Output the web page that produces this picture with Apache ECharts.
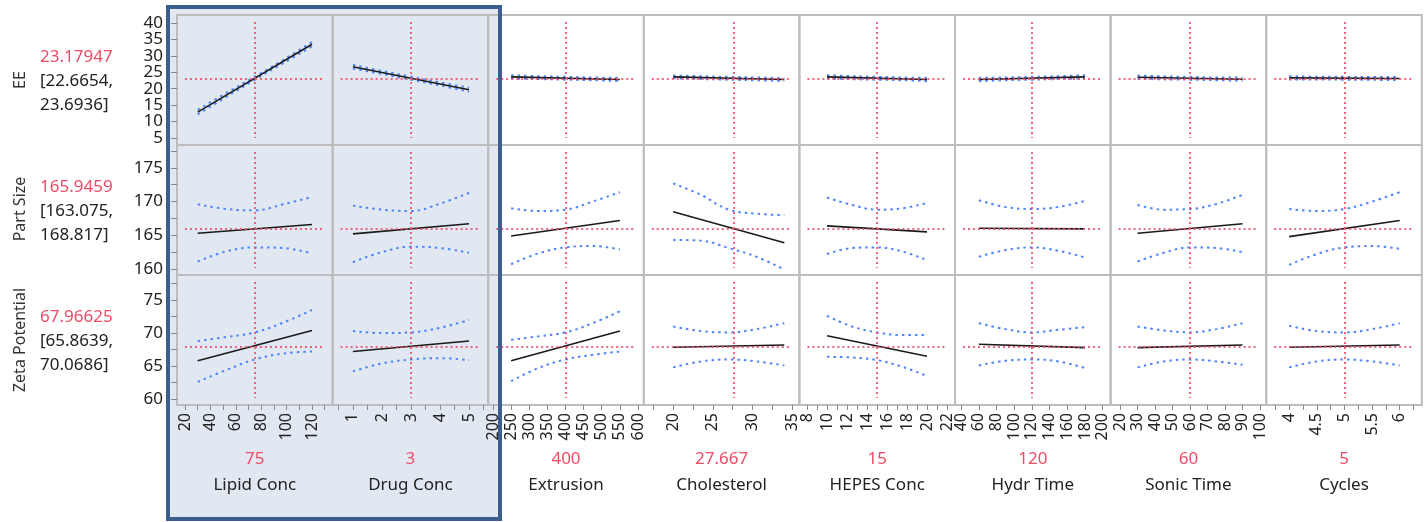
<!DOCTYPE html>
<html>
<head>
<meta charset="utf-8">
<script src="https://cdn.jsdelivr.net/npm/echarts@6/dist/echarts.min.js"></script>
<style>
  html, body { margin: 0; padding: 0; background: #ffffff; }
  #chart { width: 1427px; height: 522px; }
</style>
</head>
<body>
<div id="chart"></div>
<script>
// Prediction profiler: 3 responses x 8 factors

const factors = ['Lipid Conc', 'Drug Conc', 'Extrusion', 'Cholesterol', 'HEPES Conc', 'Hydr Time', 'Sonic Time', 'Cycles'];
const factorCurrent = [75, 3, 400, 27.667, 15, 120, 60, 5];
const factorLo = [30, 1, 250, 20, 10, 60, 30, 4];
const factorHi = [120, 5, 550, 34, 20, 180, 90, 6];
const xMin = [13.7, 0.3, 186.8, 16.3, 7.24, 33, 14.6, 3.585];
const xMax = [136.2, 5.66, 616, 35.9, 22.8, 209, 103.5, 6.4];
const xLabels = [
  [20, 40, 60, 80, 100, 120],
  [1, 2, 3, 4, 5],
  [200, 250, 300, 350, 400, 450, 500, 550, 600],
  [20, 25, 30, 35],
  [8, 10, 12, 14, 16, 18, 20, 22],
  [40, 60, 80, 100, 120, 140, 160, 180, 200],
  [20, 30, 40, 50, 60, 70, 80, 90, 100],
  [4, 4.5, 5, 5.5, 6]
];
const xTicks = [
  [20, 30, 40, 50, 60, 70, 80, 90, 100, 110, 120, 130],
  [0.5, 1, 1.5, 2, 2.5, 3, 3.5, 4, 4.5, 5, 5.5],
  [200, 250, 300, 350, 400, 450, 500, 550, 600],
  [17.5, 20, 22.5, 25, 27.5, 30, 32.5, 35],
  [8, 9, 10, 11, 12, 13, 14, 15, 16, 17, 18, 19, 20, 21, 22],
  [40, 60, 80, 100, 120, 140, 160, 180, 200],
  [20, 30, 40, 50, 60, 70, 80, 90, 100],
  [3.75, 4, 4.25, 4.5, 4.75, 5, 5.25, 5.5, 5.75, 6, 6.25]
];

const responses = ['EE', 'Part Size', 'Zeta Potential'];
const respValue = ['23.17947', '165.9459', '67.96625'];
const respLow = ['22.6654', '163.075', '65.8639'];
const respHigh = ['23.6936', '168.817', '70.0686'];
const yMin = [2.9, 159.1, 59.1];
const yMax = [42.4, 178.4, 78.8];
// tick labels are split over two stacked axes so tightly packed labels all stay visible
const yLabelsA = [
  [5, 15, 25, 35],
  [160, 170],
  [60, 70]
];
const yLabelsB = [
  [10, 20, 30, 40],
  [165, 175],
  [65, 75]
];
const yTicks = [
  [5, 10, 15, 20, 25, 30, 35, 40],
  [160, 162.5, 165, 167.5, 170, 172.5, 175, 177.5],
  [60, 62.5, 65, 67.5, 70, 72.5, 75, 77.5]
];

// Prediction trace end values (at factorLo, factorHi) for each factor
const eeLine = [[12.9, 33.5], [26.7, 19.7], [23.6, 22.8], [23.6, 22.8], [23.6, 22.8], [22.8, 23.6], [23.5, 22.9], [23.3, 23.1]];
// Confidence bands read at 5 evenly spaced positions across each factor range
const eeUpper = [
  [13.6, 18.7, 23.65, 28.8, 34.2], [27.3, 25.4, 23.65, 21.9, 20.3],
  [24.1, 23.8, 23.6, 23.4, 23.3], [24.0, 23.8, 23.6, 23.4, 23.2],
  [24.1, 23.8, 23.6, 23.4, 23.3], [23.3, 23.4, 23.6, 23.8, 24.1],
  [24.0, 23.75, 23.6, 23.4, 23.4], [23.8, 23.65, 23.6, 23.55, 23.6]
];
const eeLower = [
  [12.2, 17.5, 22.75, 27.8, 32.8], [26.1, 24.5, 22.75, 21.0, 19.1],
  [23.1, 22.95, 22.75, 22.6, 22.3], [23.2, 22.95, 22.75, 22.55, 22.4],
  [23.1, 22.9, 22.75, 22.6, 22.3], [22.3, 22.6, 22.75, 22.95, 23.1],
  [23.0, 22.85, 22.75, 22.6, 22.4], [22.8, 22.8, 22.75, 22.7, 22.6]
];

const psLine = [[165.3, 166.6], [165.2, 166.7], [164.9, 167.2], [168.5, 163.9], [166.4, 165.5], [166.05, 165.95], [165.3, 166.7], [164.8, 167.2]];
const psUpper = [
  [169.6, 168.9, 168.7, 169.6, 170.7], [169.4, 168.8, 168.6, 169.7, 171.3],
  [169.0, 168.6, 168.8, 170.0, 171.4], [172.7, 171.0, 168.8, 168.2, 168.0],
  [170.6, 169.5, 168.8, 169.0, 169.8], [170.2, 169.2, 168.9, 169.2, 170.1],
  [169.5, 168.8, 168.9, 169.65, 171.0], [168.9, 168.6, 168.9, 170.0, 171.4]
];
const psLower = [
  [161.1, 162.6, 163.2, 163.1, 162.3], [161.0, 162.5, 163.3, 163.1, 162.4],
  [160.7, 162.3, 163.2, 163.4, 162.9], [164.3, 164.2, 163.1, 161.8, 159.9],
  [162.2, 163.1, 163.2, 162.6, 161.3], [161.8, 162.8, 163.2, 162.7, 161.7],
  [161.1, 162.4, 163.2, 163.1, 162.5], [160.6, 162.2, 163.2, 163.4, 163.0]
];

const zpLine = [[65.8, 70.4], [67.2, 68.8], [65.8, 70.3], [67.85, 68.2], [69.6, 66.5], [68.3, 67.8], [67.8, 68.2], [67.85, 68.2]];
const zpUpper = [
  [68.8, 69.4, 70.1, 71.6, 73.5], [70.3, 70.0, 70.1, 70.8, 72.0],
  [69.0, 69.5, 70.1, 71.5, 73.3], [71.0, 70.3, 70.1, 70.6, 71.5],
  [72.6, 71.0, 70.1, 69.7, 69.7], [71.5, 70.6, 70.1, 70.5, 70.9],
  [71.0, 70.4, 70.1, 70.6, 71.5], [71.1, 70.3, 70.1, 70.6, 71.5]
];
const zpLower = [
  [62.6, 64.4, 66.0, 66.9, 67.2], [64.2, 65.4, 66.0, 66.2, 65.9],
  [62.7, 64.7, 66.0, 66.7, 67.2], [64.8, 65.7, 66.0, 65.7, 65.1],
  [66.4, 66.3, 65.9, 64.9, 63.5], [65.1, 65.8, 66.0, 65.7, 64.7],
  [64.8, 65.7, 66.0, 65.7, 65.2], [64.8, 65.7, 66.0, 65.7, 65.1]
];

const traceLines = [eeLine, psLine, zpLine];
const upperBands = [eeUpper, psUpper, zpUpper];
const lowerBands = [eeLower, psLower, zpLower];

// layout
const FONT = '"Noto Sans", "Open Sans", sans-serif';
const LEFT = 177, TOP = 15, CW = 155.6, RH = 130;
const RED = '#ee4b66', TEXT = '#222222';

const grids = [], xAxes = [], yAxes = [], series = [];
const extraYAxes = [];

for (let r = 0; r < 3; r++) {
  for (let c = 0; c < 8; c++) {
    const idx = r * 8 + c;
    grids.push({
      left: LEFT + c * CW, top: TOP + r * RH, width: CW, height: RH,
      show: true, borderColor: '#bdbdbd', borderWidth: 2,
      backgroundColor: 'transparent', containLabel: false, outerBoundsMode: 'none'
    });
    xAxes.push({
      type: 'value', gridIndex: idx, min: xMin[c], max: xMax[c],
      show: r === 2,
      axisLine: { show: false },
      splitLine: { show: false },
      axisTick: { show: true, length: 5, customValues: xTicks[c], lineStyle: { color: '#8a8a8a', width: 1 } },
      axisLabel: { show: true, customValues: xLabels[c], rotate: 90, margin: 8, fontSize: 16,
        color: TEXT, fontFamily: FONT, showMinLabel: true, showMaxLabel: true, hideOverlap: false }
    });
    yAxes.push({
      type: 'value', gridIndex: idx, min: yMin[r], max: yMax[r], position: 'left',
      show: c === 0,
      axisLine: { show: false },
      splitLine: { show: false },
      axisTick: { show: true, length: 6, customValues: yTicks[r], lineStyle: { color: '#8a8a8a', width: 1 } },
      axisLabel: { show: true, customValues: yLabelsA[r], margin: 14, fontSize: 17,
        color: TEXT, fontFamily: FONT, showMinLabel: true, showMaxLabel: true, hideOverlap: false }
    });
    if (c === 0) {
      extraYAxes.push({
        type: 'value', gridIndex: idx, min: yMin[r], max: yMax[r], position: 'left', offset: 0,
        axisLine: { show: false }, splitLine: { show: false }, axisTick: { show: false },
        axisLabel: { show: true, customValues: yLabelsB[r], margin: 14, fontSize: 17,
          color: TEXT, fontFamily: FONT, showMinLabel: true, showMaxLabel: true, hideOverlap: false }
      });
    }

    const lo = factorLo[c], hi = factorHi[c];
    const step = (hi - lo) / 4;
    const bandStyle = { color: '#4f86f7', width: 2, type: [2.5, 4] };
    series.push({
      type: 'line', xAxisIndex: idx, yAxisIndex: idx, silent: true, animation: false,
      symbol: 'none', smooth: 0.4, z: 3,
      lineStyle: bandStyle,
      data: upperBands[r][c].map((v, k) => [lo + k * step, v])
    });
    series.push({
      type: 'line', xAxisIndex: idx, yAxisIndex: idx, silent: true, animation: false,
      symbol: 'none', smooth: 0.4, z: 3,
      lineStyle: bandStyle,
      data: lowerBands[r][c].map((v, k) => [lo + k * step, v])
    });

    const yPad = (yMax[r] - yMin[r]) * 7 / RH;
    const xPad = (xMax[c] - xMin[c]) * 8 / CW;
    const resp = parseFloat(respValue[r]);
    series.push({
      type: 'line', xAxisIndex: idx, yAxisIndex: idx, silent: true, animation: false,
      symbol: 'none', z: 4,
      lineStyle: { color: '#1a1a1a', width: 1.6 },
      data: [[lo, traceLines[r][c][0]], [hi, traceLines[r][c][1]]],
      markLine: {
        silent: true, animation: false, symbol: ['none', 'none'],
        label: { show: false },
        lineStyle: { color: RED, width: 2, type: [2, 3], opacity: 0.85 },
        data: [
          [{ coord: [factorCurrent[c], yMax[r] - yPad] }, { coord: [factorCurrent[c], yMin[r] + yPad] }],
          [{ coord: [xMin[c] + xPad, resp] }, { coord: [xMax[c] - xPad, resp] }]
        ]
      }
    });
  }
}

// decorations and text
const graphics = [
  { type: 'rect', z: -10, silent: true, shape: { x: 166, y: 5, width: 336, height: 516 }, style: { fill: '#e1e8f2' } },
  { type: 'rect', z: 100, silent: true, shape: { x: 168, y: 7, width: 332, height: 512 }, style: { fill: 'none', stroke: '#3c5e8e', lineWidth: 4 } }
];

const rowCenters = [80, 209, 340];
for (let r = 0; r < 3; r++) {
  graphics.push({
    type: 'text', x: 20, y: rowCenters[r], rotation: Math.PI / 2, z: 101,
    style: { text: responses[r], fill: '#333333', fontSize: 16, fontFamily: FONT, align: 'center', verticalAlign: 'middle' }
  });
  const base = TOP + r * RH;
  graphics.push({ type: 'text', x: 40, y: base + 42, z: 101,
    style: { text: respValue[r], fill: RED, fontSize: 17, fontFamily: FONT, align: 'left', verticalAlign: 'middle' } });
  graphics.push({ type: 'text', x: 40, y: base + 66, z: 101,
    style: { text: '[' + respLow[r] + ',', fill: TEXT, fontSize: 17, fontFamily: FONT, align: 'left', verticalAlign: 'middle' } });
  graphics.push({ type: 'text', x: 40, y: base + 90, z: 101,
    style: { text: respHigh[r] + ']', fill: TEXT, fontSize: 17, fontFamily: FONT, align: 'left', verticalAlign: 'middle' } });
}

for (let c = 0; c < 8; c++) {
  const cx = LEFT + c * CW + CW / 2;
  graphics.push({ type: 'text', x: cx, y: 459, z: 101,
    style: { text: String(factorCurrent[c]), fill: RED, fontSize: 17, fontFamily: FONT, align: 'center', verticalAlign: 'middle' } });
  graphics.push({ type: 'text', x: cx, y: 485, z: 101,
    style: { text: factors[c], fill: TEXT, fontSize: 17, fontFamily: FONT, align: 'center', verticalAlign: 'middle' } });
}

const chart = echarts.init(document.getElementById('chart'), null, { renderer: 'canvas' });
chart.setOption({
  animation: false,
  backgroundColor: '#ffffff',
  textStyle: { fontFamily: FONT },
  grid: grids,
  xAxis: xAxes,
  yAxis: yAxes.concat(extraYAxes),
  series: series,
  graphic: graphics
});
</script>
</body>
</html>
